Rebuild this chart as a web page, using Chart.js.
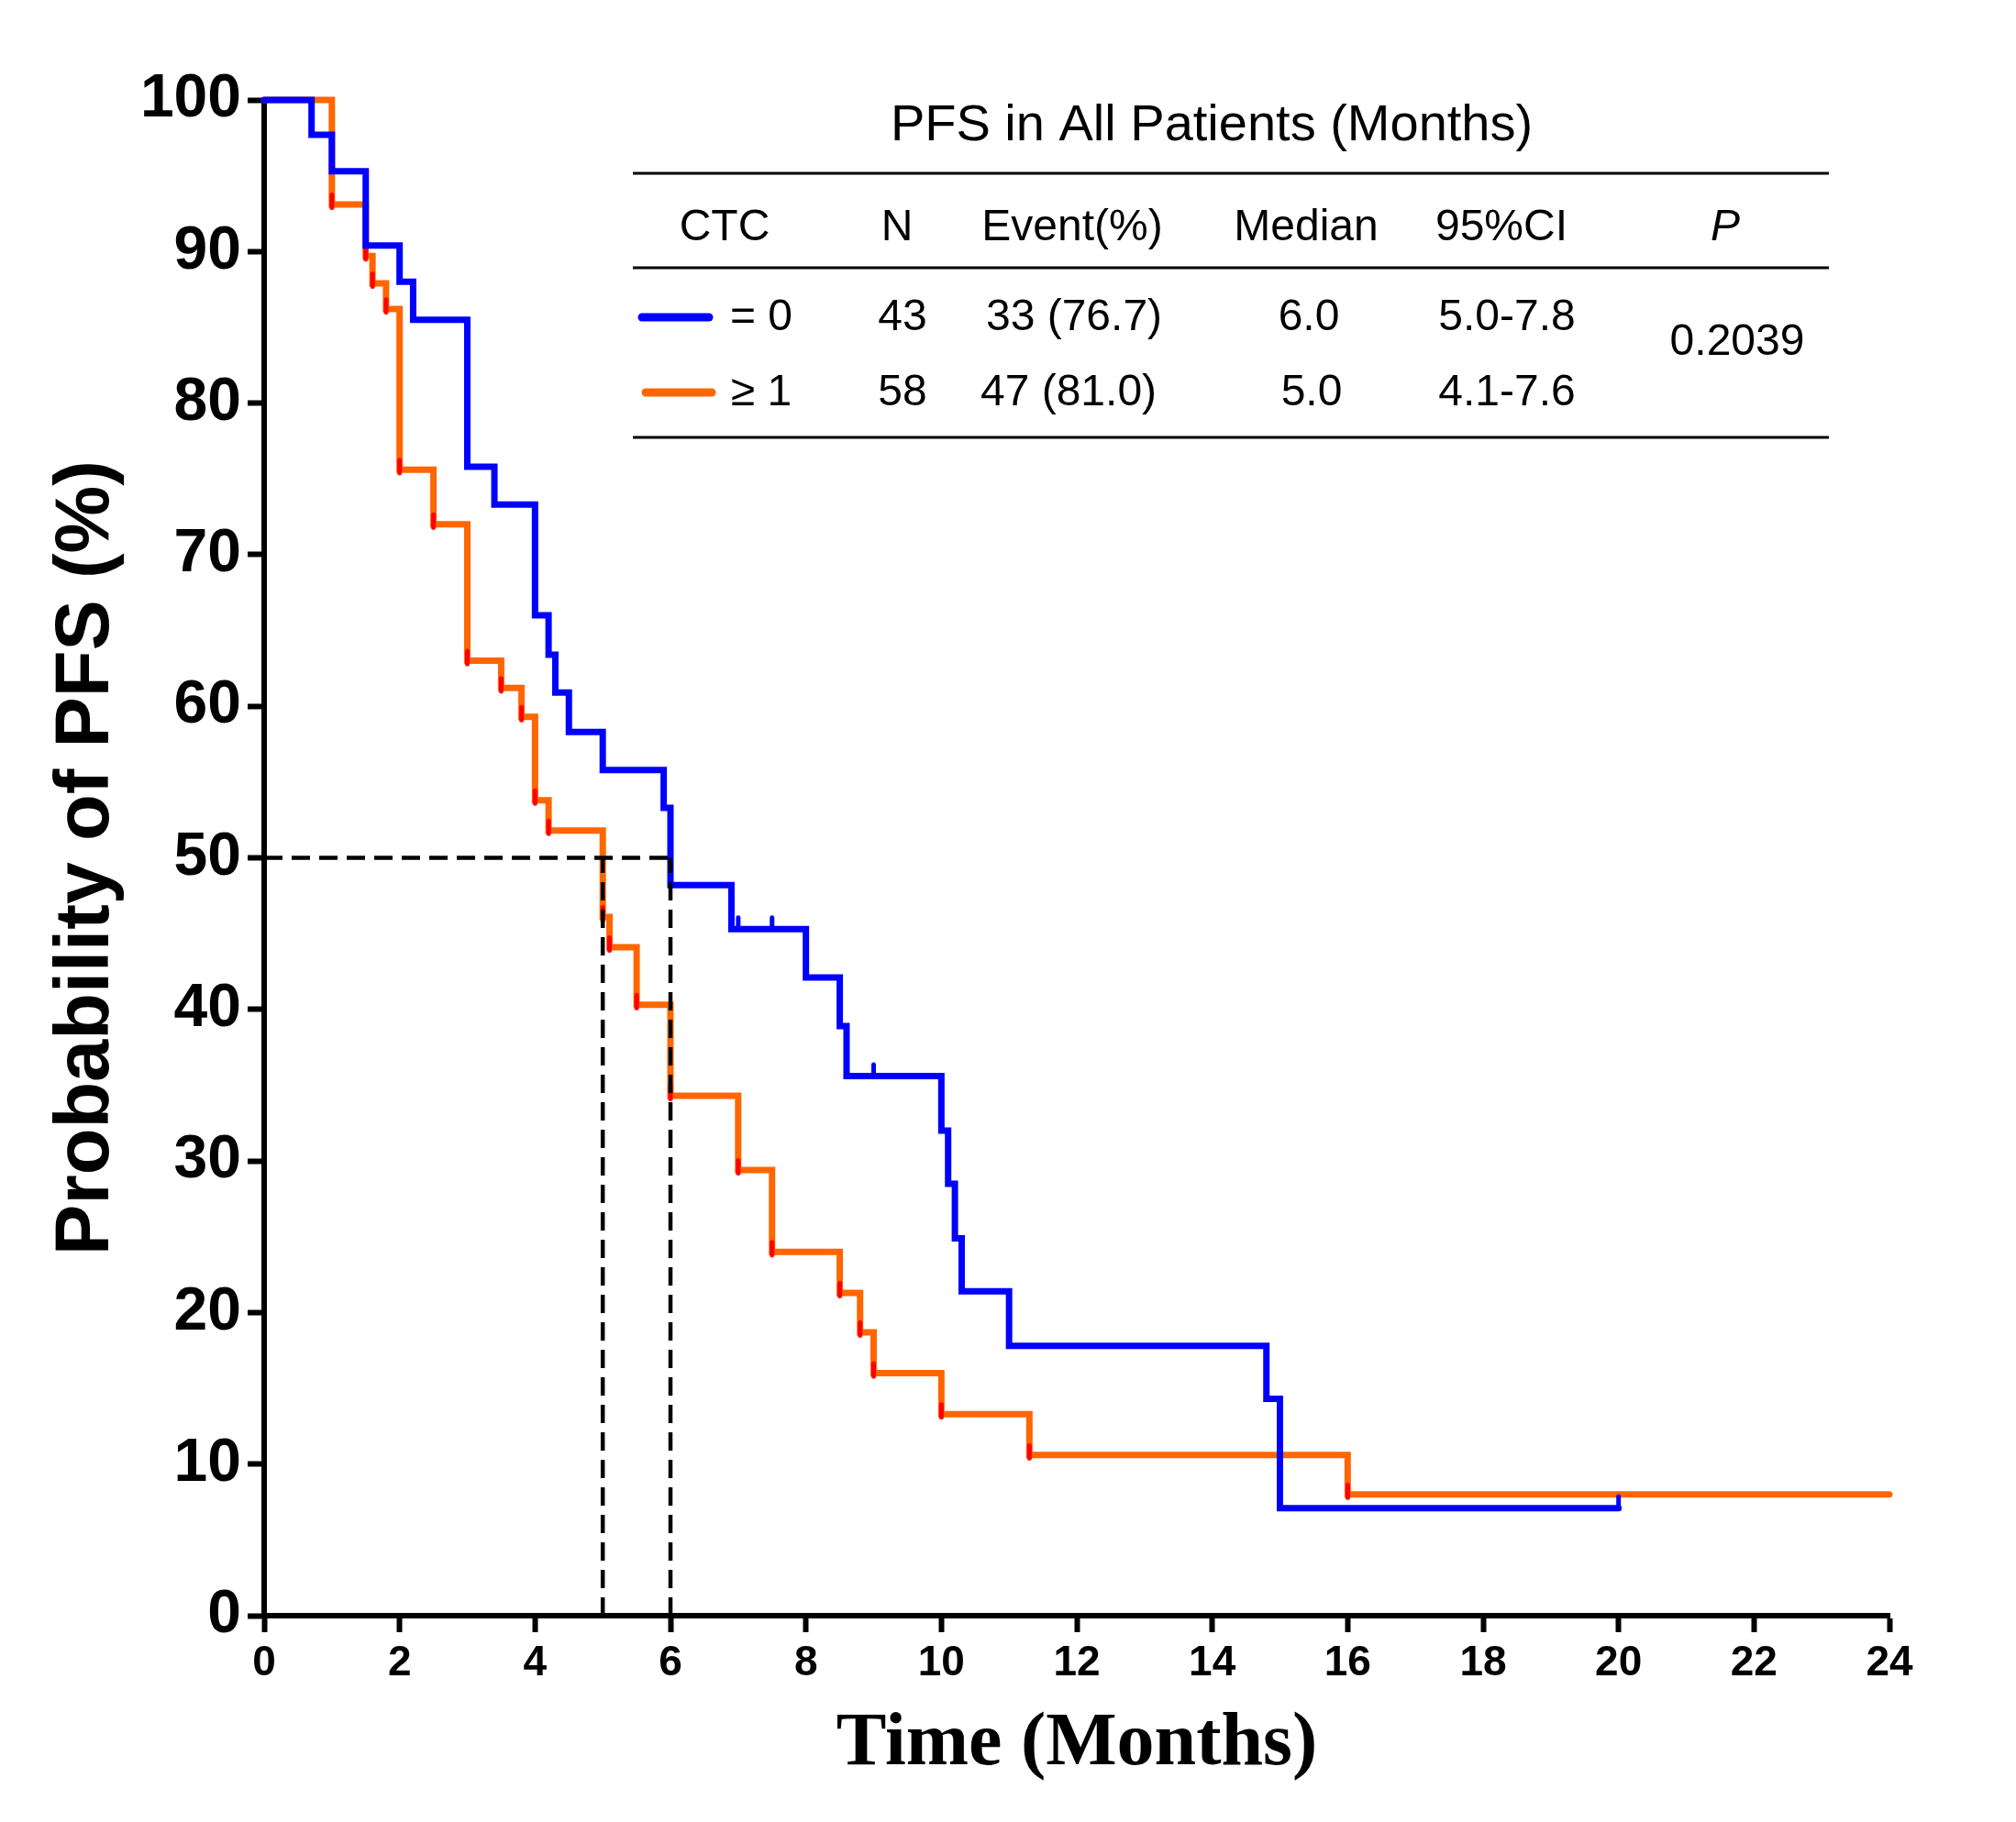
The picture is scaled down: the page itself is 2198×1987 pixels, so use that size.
<!DOCTYPE html>
<html lang="en">
  <head>
    <meta charset="UTF-8">
    <title>PFS in All Patients</title>
    <script src="https://cdn.jsdelivr.net/npm/chart.js"></script>
    <style>
      body { margin: 0; background: #fff; }
    </style>
  </head>
  <body>
    <canvas id="kmChart" width="2198" height="1987"></canvas>
    <script>
      // CTC = 0 (blue)
      const ctc0Times = [0, 0.7, 1.0, 1.5, 2.0, 2.2, 3.0, 3.4, 4.0, 4.2, 4.3, 4.5, 5.0, 5.9, 6.0, 6.9, 8.0, 8.5, 8.6, 10.0, 10.1, 10.2, 10.3, 11.0, 14.8, 15.0, 20.0];
      const ctc0Surv = [100, 97.7, 95.3, 90.4, 88.0, 85.5, 75.8, 73.3, 66.0, 63.4, 60.9, 58.3, 55.8, 53.3, 48.2, 45.3, 42.1, 38.9, 35.6, 32.0, 28.5, 24.9, 21.4, 17.8, 14.3, 7.1, 7.1];
      const ctc0CensorTimes = [7.0, 7.5, 9.0, 20.0];
      const ctc0CensorSurv = [45.3, 45.3, 35.6, 7.1];

      // CTC >= 1 (orange)
      const ctc1Times = [0, 1.0, 1.5, 1.6, 1.8, 2.0, 2.5, 3.0, 3.5, 3.8, 4.0, 4.2, 5.0, 5.1, 5.5, 6.0, 7.0, 7.5, 8.5, 8.8, 9.0, 10.0, 11.3, 16.0, 24.0];
      const ctc1Surv = [100, 93.1, 89.7, 87.9, 86.2, 75.6, 72.0, 63.0, 61.2, 59.3, 53.8, 51.8, 46.1, 44.1, 40.3, 34.3, 29.4, 24.0, 21.3, 18.7, 16.0, 13.3, 10.6, 8.0, 8.0];

      // median PFS reference lines
      const medianTimes = [5.0, 6.0];
      const halfLevel = 50;

      // axis ticks
      const xTicks = [0, 24, 2];
      const yTicks = [0, 100, 10];

      // summary table
      const tableTitle = 'PFS in All Patients (Months)';
      const tableHeaders = ['CTC', 'N', 'Event(%)', 'Median', '95%CI', 'P'];
      const groupLabels = ['= 0', '\u2265 1'];
      const groupN = ['43', '58'];
      const groupEvents = ['33 (76.7)', '47 (81.0)'];
      const groupMedians = ['6.0', '5.0'];
      const groupCI = ['5.0-7.8', '4.1-7.6'];
      const pValue = '0.2039';

      const BLUE = '#0000ff';
      const ORANGE = '#ff6600';
      const RED = '#ff0000';
      const SANS = "'Liberation Sans', Arial, sans-serif";
      const SERIF = "'Liberation Serif', 'Times New Roman', serif";

      function toPoints(xs, ys) {
        return xs.map((x, i) => ({ x: x, y: ys[i] }));
      }

      // small vertical tick, drawn upward from the point
      function makeTick(color, width, up, down) {
        const c = document.createElement('canvas');
        const half = Math.max(up, down) + width;
        c.width = width + 2;
        c.height = half * 2;
        const g = c.getContext('2d');
        g.strokeStyle = color;
        g.lineWidth = width;
        g.lineCap = 'round';
        g.beginPath();
        g.moveTo(c.width / 2, half - up + width / 2);
        g.lineTo(c.width / 2, half + down - width / 2);
        g.stroke();
        return c;
      }

      const censorTick = makeTick(BLUE, 5, 15, 0);
      const eventMark = makeTick(RED, 5, 13, 6);

      const eventTimes = ctc1Times.slice(1, -1);
      const eventSurv = ctc1Surv.slice(1, -1);

      const datasets = [];
      // dashed median lines
      datasets.push({
        data: [{ x: 0, y: halfLevel }, { x: Math.max(...medianTimes), y: halfLevel }],
        borderColor: '#000', borderWidth: 4.5, borderDash: [20, 10], pointRadius: 0, order: 0
      });
      medianTimes.forEach(m => {
        datasets.push({
          data: [{ x: m, y: 0 }, { x: m, y: halfLevel }],
          borderColor: '#000', borderWidth: 4.5, borderDash: [20, 10], pointRadius: 0, order: 0
        });
      });
      datasets.push({
        data: toPoints(ctc0CensorTimes, ctc0CensorSurv),
        showLine: false, pointStyle: censorTick, pointRadius: 3, order: 1
      });
      datasets.push({
        data: toPoints(ctc0Times, ctc0Surv),
        stepped: 'before', borderColor: BLUE, borderWidth: 7, pointRadius: 0,
        borderJoinStyle: 'miter', borderCapStyle: 'round', order: 2
      });
      datasets.push({
        data: toPoints(eventTimes, eventSurv),
        showLine: false, pointStyle: eventMark, pointRadius: 3, order: 3
      });
      datasets.push({
        data: toPoints(ctc1Times, ctc1Surv),
        stepped: 'before', borderColor: ORANGE, borderWidth: 7, pointRadius: 0,
        borderJoinStyle: 'miter', borderCapStyle: 'round', order: 4
      });

      const tablePlugin = {
        id: 'pfsTable',
        afterDraw(chart) {
          const ctx = chart.ctx;
          ctx.save();
          ctx.fillStyle = '#000';
          ctx.textAlign = 'center';
          ctx.textBaseline = 'middle';

          ctx.font = '56px ' + SANS;
          ctx.fillText(tableTitle, 1321, 138);

          ctx.strokeStyle = '#000';
          ctx.lineWidth = 3;
          [189, 292, 477].forEach(y => {
            ctx.beginPath();
            ctx.moveTo(690, y);
            ctx.lineTo(1994, y);
            ctx.stroke();
          });

          const headerX = [790, 978, 1169, 1424, 1637, 1881];
          tableHeaders.forEach((h, i) => {
            ctx.font = (h === 'P' ? 'italic ' : '') + '48px ' + SANS;
            ctx.fillText(h, headerX[i], 249);
          });

          ctx.font = '48px ' + SANS;
          const rowY = [347, 429];
          const lineX = [[700, 773], [704, 776]];
          const colors = [BLUE, ORANGE];
          rowY.forEach((y, i) => {
            ctx.strokeStyle = colors[i];
            ctx.lineWidth = 9;
            ctx.lineCap = 'round';
            ctx.beginPath();
            ctx.moveTo(lineX[i][0], y - 1);
            ctx.lineTo(lineX[i][1], y - 1);
            ctx.stroke();
            ctx.fillText(groupLabels[i], 830, y);
            ctx.fillText(groupN[i], 984, y);
            ctx.fillText(groupEvents[i], i === 0 ? 1171 : 1165, y);
            ctx.fillText(groupMedians[i], i === 0 ? 1427 : 1430, y);
            ctx.fillText(groupCI[i], 1643, y);
          });
          ctx.fillText(pValue, 1894, 374);
          ctx.restore();
        }
      };

      new Chart(document.getElementById('kmChart'), {
        type: 'line',
        data: { datasets },
        options: {
          responsive: false,
          animation: false,
          devicePixelRatio: 1,
          events: [],
          layout: { padding: { left: 0, top: 109, right: 138, bottom: 0 } },
          plugins: {
            legend: { display: false },
            tooltip: { enabled: false }
          },
          datasets: { line: { clip: false } },
          scales: {
            x: {
              type: 'linear',
              min: xTicks[0],
              max: xTicks[1],
              ticks: { stepSize: xTicks[2], color: '#000', padding: 7, maxRotation: 0,
                font: { family: SANS, size: 46, weight: 'bold' } },
              grid: { drawOnChartArea: false, tickLength: 18, tickWidth: 6, tickColor: '#000' },
              border: { color: '#000', width: 6 },
              title: { display: true, text: 'Time (Months)', color: '#000',
                padding: { top: 0, bottom: 43 },
                font: { family: SERIF, size: 82, weight: 'bold', lineHeight: 1 } },
              afterFit: s => { s.height = 225; }
            },
            y: {
              min: yTicks[0],
              max: yTicks[1],
              ticks: { stepSize: yTicks[2], color: '#000', padding: 7,
                font: { family: SANS, size: 66, weight: 'bold' } },
              grid: { drawOnChartArea: false, tickLength: 18, tickWidth: 6, tickColor: '#000' },
              border: { color: '#000', width: 6 },
              title: { display: true, text: 'Probability of PFS (%)', color: '#000',
                padding: { top: 54, bottom: 0 },
                font: { family: SANS, size: 83, weight: 'bold', lineHeight: 1 } },
              afterFit: s => { s.width = 288; }
            }
          }
        },
        plugins: [tablePlugin]
      });
    </script>
  </body>
</html>
